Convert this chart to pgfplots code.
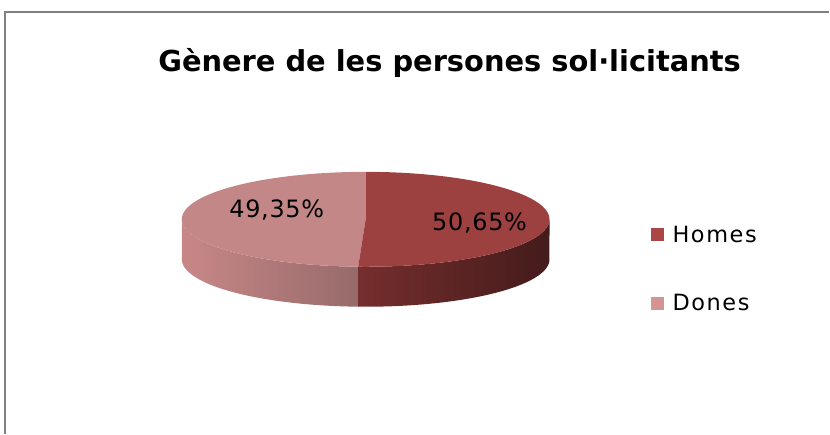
\documentclass[border=0pt]{standalone}
\usepackage{pgfplots}
\pgfplotsset{compat=1.18}
\usepackage{fontspec}
\setmainfont{DejaVu Sans}
\newfontfamily\legfont[LetterSpace=7]{DejaVu Sans}
\newfontfamily\labfont[LetterSpace=3]{DejaVu Sans}
\definecolor{homestop}{RGB}{157,64,64}
\definecolor{donestop}{RGB}{195,135,135}
\definecolor{homesleg}{RGB}{170,70,70}
\definecolor{donesleg}{RGB}{212,148,148}
\definecolor{homessideL}{RGB}{118,46,46}
\definecolor{homessideR}{RGB}{68,27,27}
\definecolor{donessideL}{RGB}{200,135,135}
\definecolor{donessideR}{RGB}{150,106,106}
\definecolor{framegray}{RGB}{128,128,128}
% data (percent)
\def\homes{50.65}
\def\dones{49.35}
% pie geometry (px)
\def\cx{366}
\def\cy{214.5}
\def\rx{184}
\def\ry{47.5}
\def\dd{40}
\pgfmathsetmacro\split{90-3.6*\homes}
\pgfmathsetmacro\splitd{\split+360+1}
\begin{document}
\begin{tikzpicture}
\begin{axis}[
  width=830bp, height=434bp, scale only axis,
  xmin=0, xmax=830, ymin=0, ymax=434,
  hide axis, clip=false,
]
\draw[draw=none] (axis cs:0,0) rectangle (axis cs:830,434);
% frame
\addplot[framegray, line width=1.5bp, forget plot] coordinates {(5,0) (5,422) (830,422)};
% sides
\addplot[draw=none, left color=donessideL, right color=donessideR, domain=0:2, samples=201, variable=\s, forget plot]
  ({\cx+\rx*cos(((\s<=1)?(180+(\splitd-180)*\s):(\splitd-(\splitd-180)*(\s-1))))},
   {\cy+\ry*sin(((\s<=1)?(180+(\splitd-180)*\s):(\splitd-(\splitd-180)*(\s-1))))-((\s>1)?\dd:0)}) -- cycle;
\addplot[draw=none, left color=homessideL, right color=homessideR, domain=0:2, samples=201, variable=\s, forget plot]
  ({\cx+\rx*cos(((\s<=1)?(\split+(0-\split)*\s):(0-(0-\split)*(\s-1))))},
   {\cy+\ry*sin(((\s<=1)?(\split+(0-\split)*\s):(0-(0-\split)*(\s-1))))-((\s>1)?\dd:0)}) -- cycle;
% top faces
\addplot[draw=none, fill=donestop, domain=90:\split+360, samples=120, forget plot]
  ({\cx+\rx*cos(x)}, {\cy+\ry*sin(x)}) -- (axis cs:\cx,\cy) -- cycle;
\addplot[draw=none, fill=homestop, domain=\split:90, samples=120, forget plot]
  ({\cx+\rx*cos(x)}, {\cy+\ry*sin(x)}) -- (axis cs:\cx,\cy) -- cycle;
% legend squares
\addplot[draw=none, fill=homesleg, forget plot] coordinates {(652,206) (665,206) (665,193) (652,193)} -- cycle;
\addplot[draw=none, fill=donesleg, forget plot] coordinates {(652,137) (665,137) (665,124) (652,124)} -- cycle;
% texts
\node[anchor=base, font=\fontsize{29}{33}\selectfont\bfseries, inner sep=0pt] at (axis cs:450,362) {Gènere de les persones sol·licitants};
\node[font=\labfont\fontsize{24}{28}\selectfont, inner sep=0pt] at (axis cs:277,224) {49,35\%};
\node[font=\labfont\fontsize{24}{28}\selectfont, inner sep=0pt] at (axis cs:480,211) {50,65\%};
\node[anchor=west, font=\legfont\fontsize{22.5}{26}\selectfont, inner sep=0pt] at (axis cs:673,199) {Homes};
\node[anchor=west, font=\legfont\fontsize{22.5}{26}\selectfont, inner sep=0pt] at (axis cs:673,131) {Dones};
\end{axis}
\end{tikzpicture}
\end{document}
